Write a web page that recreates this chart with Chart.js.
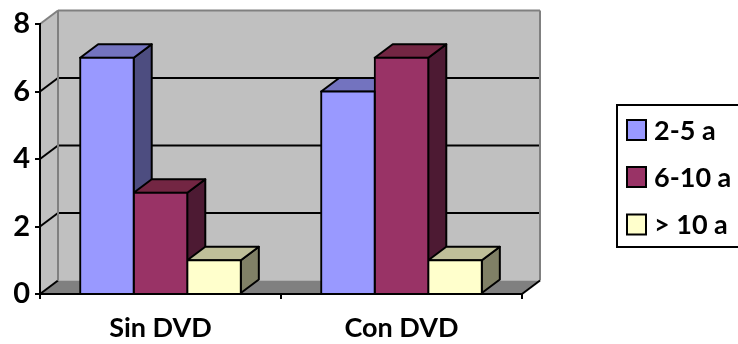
<!doctype html>
<html lang="en">
<head>
<meta charset="utf-8">
<script src="https://cdn.jsdelivr.net/npm/chart.js"></script>
<style>
    html, body { margin: 0; padding: 0; background: #fff; }
    #wrap { width: 738px; height: 344px; }
</style>
</head>
<body>
<div id="wrap"><canvas id="barChart" width="738" height="344"></canvas></div>
<script>
const categories = ['Sin DVD', 'Con DVD'];
const series2a5 = [7, 6];
const series6a10 = [3, 7];
const seriesMas10 = [1, 1];
const seriesNames = ['2-5 a', '6-10 a', '> 10 a'];

const fontName = 'Lato, sans-serif';
const depthX = 18;
const depthY = 13.5;

// front, side and top colours of each series
const faces = [
    { front: '#9999ff', side: '#4d4d80', top: '#7373bf' },
    { front: '#993366', side: '#4d1a33', top: '#732643' },
    { front: '#ffffcc', side: '#808066', top: '#bfbf99' }
];

function poly(ctx, pts, fill, stroke, lw) {
    ctx.beginPath();
    pts.forEach((p, i) => i ? ctx.lineTo(p[0], p[1]) : ctx.moveTo(p[0], p[1]));
    ctx.closePath();
    if (fill) { ctx.fillStyle = fill; ctx.fill(); }
    if (stroke) { ctx.strokeStyle = stroke; ctx.lineWidth = lw; ctx.stroke(); }
}

function line(ctx, x1, y1, x2, y2, color, lw) {
    ctx.beginPath();
    ctx.moveTo(x1, y1);
    ctx.lineTo(x2, y2);
    ctx.strokeStyle = color;
    ctx.lineWidth = lw;
    ctx.stroke();
}

// walls and floor behind the axes
const walls = {
    id: 'walls',
    beforeDraw(chart) {
        const ctx = chart.ctx;
        const { left, right, top, bottom } = chart.chartArea;
        const y = chart.scales.y;
        ctx.save();
        poly(ctx, [[left, top], [left + depthX, top - depthY], [left + depthX, bottom - depthY], [left, bottom]], '#c0c0c0');
        poly(ctx, [[left + depthX, top - depthY], [right + depthX, top - depthY], [right + depthX, bottom - depthY], [left + depthX, bottom - depthY]], '#c0c0c0');
        poly(ctx, [[left, bottom], [left + depthX, bottom - depthY], [right + depthX, bottom - depthY], [right, bottom]], '#808080');
        y.ticks.forEach(t => {
            const py = y.getPixelForValue(t.value);
            if (t.value > 0 && t.value < y.max) {
                line(ctx, left + depthX, py - depthY, right + depthX, py - depthY, '#000', 2);
            }
            if (t.value < y.max) {
                line(ctx, left, py, left + depthX, py - depthY, '#000', 2);
            }
        });
        line(ctx, left, top, left + depthX, top - depthY, '#808080', 2);
        line(ctx, left + depthX, top - depthY, right + depthX, top - depthY, '#808080', 2);
        line(ctx, right + depthX, top - depthY, right + depthX, bottom - depthY, '#808080', 2);
        line(ctx, left + depthX, top - depthY, left + depthX, bottom - depthY, '#808080', 2);
        line(ctx, right, bottom, right + depthX, bottom - depthY, '#000', 2);
        ctx.restore();
    }
};

// sides and tops of all bars go down first, the library then paints the fronts over them
const barDepth = {
    id: 'barDepth',
    beforeDatasetsDraw(chart) {
        const ctx = chart.ctx;
        ctx.save();
        ctx.lineJoin = 'round';
        chart.data.datasets.forEach((ds, i) => {
            const c = faces[i];
            chart.getDatasetMeta(i).data.forEach(bar => {
                const l = bar.x - bar.width / 2;
                const r = bar.x + bar.width / 2;
                poly(ctx, [[r, bar.y], [r + depthX, bar.y - depthY], [r + depthX, bar.base - depthY], [r, bar.base]], c.side, '#000', 2);
                poly(ctx, [[l, bar.y], [l + depthX, bar.y - depthY], [r + depthX, bar.y - depthY], [r, bar.y]], c.top, '#000', 2);
            });
        });
        ctx.restore();
    }
};

// boxed key on the right, running off the edge of the page
const sideKey = {
    id: 'sideKey',
    afterDraw(chart) {
        const ctx = chart.ctx;
        const rows = [130, 177, 224.5];
        ctx.save();
        ctx.strokeStyle = '#000';
        ctx.lineWidth = 2;
        ctx.strokeRect(617, 105, 130, 142);
        ctx.font = 'bold 27px ' + fontName;
        ctx.textBaseline = 'middle';
        ctx.textAlign = 'left';
        chart.data.datasets.forEach((ds, i) => {
            ctx.fillStyle = ds.backgroundColor;
            ctx.fillRect(627, rows[i] - 10, 19, 20);
            ctx.strokeRect(627, rows[i] - 10, 19, 20);
            ctx.fillStyle = '#000';
            ctx.fillText(ds.label, 654, rows[i] + 1);
        });
        ctx.restore();
    }
};

function barSet(label, data, idx) {
    return {
        label: label,
        data: data,
        backgroundColor: faces[idx].front,
        borderColor: '#000',
        borderWidth: 2,
        inflateAmount: 1,
        barPercentage: 1,
        categoryPercentage: 2 / 3
    };
}

new Chart(document.getElementById('barChart'), {
    type: 'bar',
    data: {
        labels: categories,
        datasets: [
            barSet(seriesNames[0], series2a5, 0),
            barSet(seriesNames[1], series6a10, 1),
            barSet(seriesNames[2], seriesMas10, 2)
        ]
    },
    options: {
        responsive: false,
        animation: false,
        layout: { padding: { top: 24, right: 216, left: 0, bottom: 0 } },
        plugins: {
            legend: { display: false },
            title: { display: false },
            tooltip: { enabled: false }
        },
        scales: {
            x: {
                afterFit: s => { s.height = 50; },
                border: { color: '#000', width: 2 },
                grid: { drawOnChartArea: false, color: '#000', lineWidth: 2, tickLength: 5 },
                ticks: { color: '#000', padding: 13, font: { family: fontName, size: 27, weight: 'bold' }, maxRotation: 0 }
            },
            y: {
                min: 0,
                max: 8,
                afterFit: s => { s.width = 40; },
                border: { color: '#000', width: 2 },
                grid: { drawOnChartArea: false, color: '#000', lineWidth: 2, tickLength: 5 },
                ticks: { stepSize: 2, color: '#000', padding: 5, font: { family: fontName, size: 29, weight: 'bold' } }
            }
        }
    },
    plugins: [walls, barDepth, sideKey]
});
</script>
</body>
</html>
